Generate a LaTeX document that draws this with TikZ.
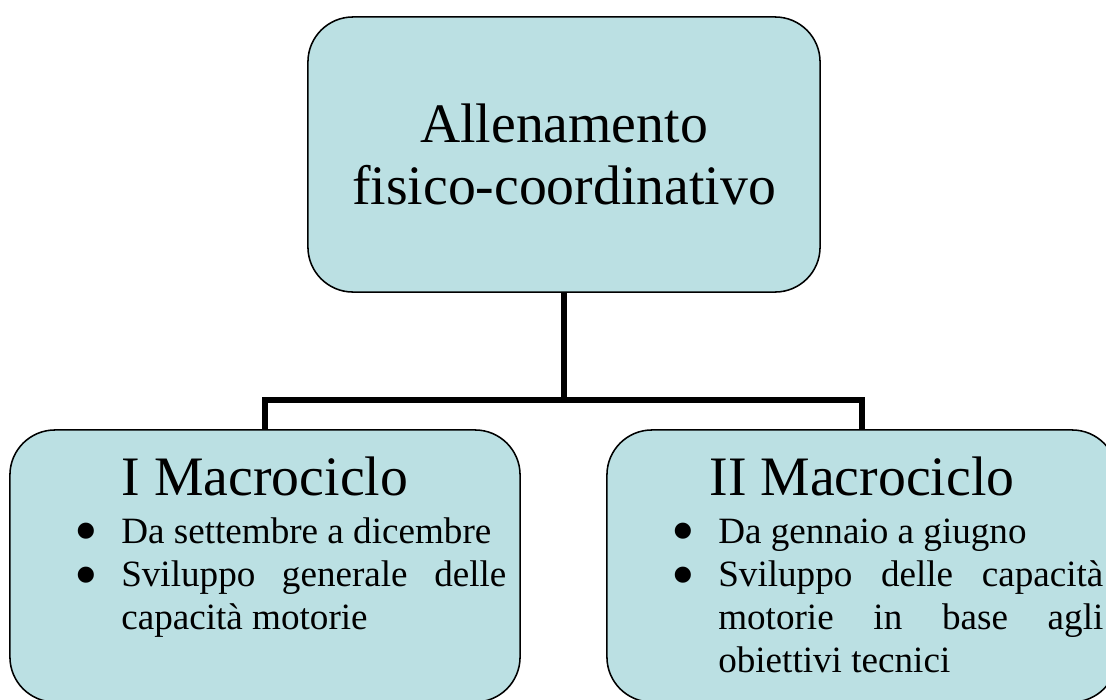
\documentclass[tikz,border=0pt]{standalone}
\usepackage{fontspec}
\setmainfont{Liberation Serif}
\usepackage{tikz}
\usetikzlibrary{positioning}
\definecolor{boxblue}{RGB}{187,224,227}
\hyphenpenalty=10000
\tolerance=9999
\newcommand{\pitem}[1]{\hangindent=1.175cm\hangafter=1\noindent\makebox[1.175cm][l]{\raisebox{-0.27cm}[0pt][0pt]{\fontsize{48}{48}\selectfont\textbullet}}#1\par}

\begin{document}
\begin{tikzpicture}[x=0.025cm, y=-0.025cm,
    box/.style={draw, line width=1.1pt, fill=boxblue, rounded corners=1.125cm, inner sep=0pt},
    conn/.style={line width=4.3pt},
    head/.style={inner sep=0pt, font=\fontsize{39.6}{44.6}\selectfont},
    items/.style={inner sep=0pt, text width=10.8cm, align=justify, font=\fontsize{26.4}{30.8}\selectfont}]
    \useasboundingbox (0,0) rectangle (1106,699);

    % Top box
    \node[box, head, align=center, minimum width=12.8cm, minimum height=6.875cm] (top) at (564,154.5) {Allenamento\\fisico-coordinativo};

    % Macrocycles
    \node[box, minimum width=12.75cm, minimum height=6.8cm] (left) at (265,566) {};
    \node[box, minimum width=12.75cm, minimum height=6.8cm] (right) at (862,566) {};

    \node[head, anchor=base] (lefttitle) at (265,495) {I Macrociclo};
    \node[items, anchor=base west] (leftitems) at (74,543) {\pitem{Da settembre a dicembre}\pitem{Sviluppo generale delle capacità motorie}};

    \node[head, anchor=base] (righttitle) at (862,495) {II Macrociclo};
    \node[items, anchor=base west] (rightitems) at (671,543) {\pitem{Da gennaio a giugno}\pitem{Sviluppo delle capacità motorie in base agli obiettivi tecnici}};

    % Connectors
    \coordinate (hub) at (564,400);
    \draw[conn] (top.south) -- (hub);
    \draw[conn] (hub) -| (left.north);
    \draw[conn] (hub) -| (right.north);
\end{tikzpicture}
\end{document}
